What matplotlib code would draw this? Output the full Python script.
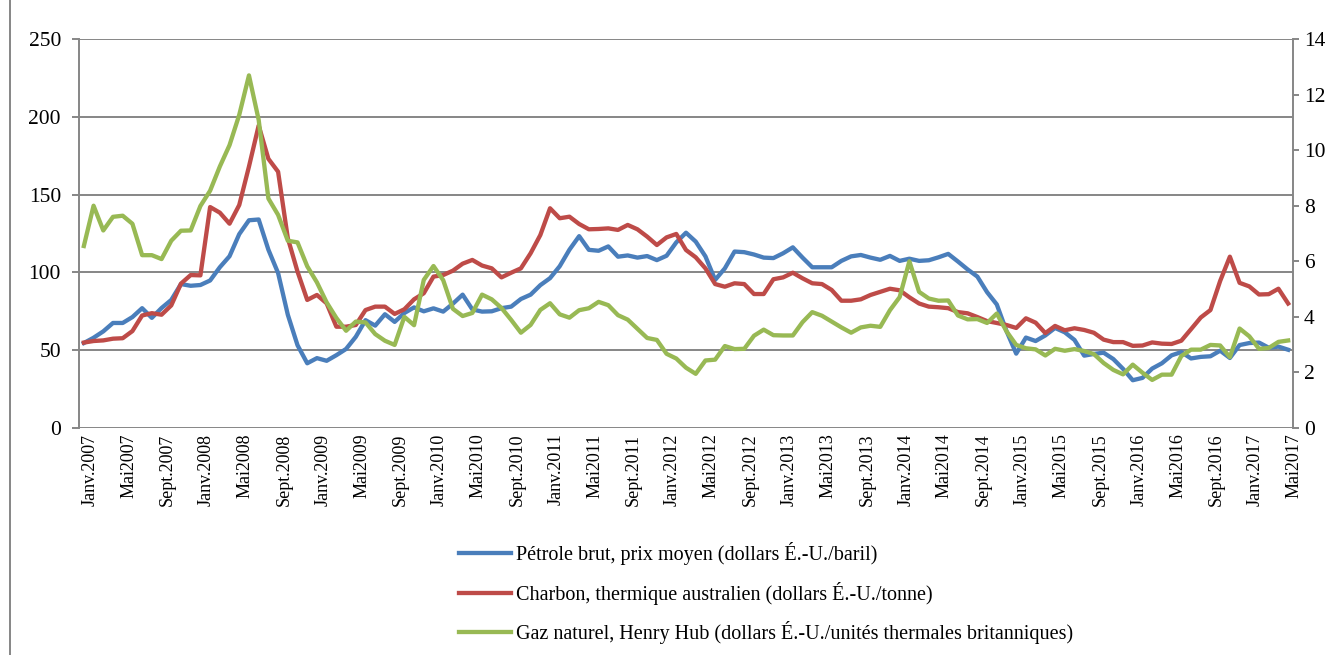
import matplotlib
matplotlib.use('Agg')
from matplotlib import pyplot as plt
from matplotlib.lines import Line2D
from matplotlib.transforms import ScaledTranslation

# Monthly series, Janv.2007 .. Mai2017 (125 months)
petrole = [54.6, 58.0, 62.1, 67.5, 67.5, 71.3, 77.0, 70.8, 77.1, 82.3, 92.5, 91.4,
           91.9, 94.8, 103.3, 110.4, 124.6, 133.5, 134.0, 114.6, 99.6, 72.8, 53.2, 41.6,
           44.9, 43.2, 46.8, 50.8, 58.6, 69.3, 65.8, 73.1, 68.2, 73.9, 77.5, 75.0,
           76.9, 74.8, 79.9, 85.7, 76.2, 74.8, 75.0, 77.0, 78.0, 82.9, 85.7, 91.8,
           96.3, 104.0, 114.6, 123.3, 114.5, 113.9, 116.7, 110.1, 110.9, 109.5, 110.5, 107.9,
           110.7, 119.3, 125.5, 119.8, 110.3, 95.2, 102.6, 113.4, 113.0, 111.5, 109.5, 109.2,
           112.3, 116.1, 109.5, 103.3, 103.3, 103.3, 107.4, 110.3, 111.2, 109.5, 108.1, 110.6,
           107.4, 108.8, 107.4, 107.8, 109.7, 111.9, 107.0, 101.9, 97.3, 87.3, 79.4, 62.3,
           47.8, 58.1, 55.9, 59.5, 64.3, 61.5, 56.6, 46.5, 47.6, 48.4, 44.3, 38.0,
           30.7, 32.2, 38.2, 41.6, 46.7, 48.8, 44.7, 45.7, 46.1, 49.7, 45.0, 53.3,
           54.6, 54.9, 51.6, 52.3, 50.3]

charbon = [54.9, 55.9, 56.3, 57.4, 57.7, 62.3, 72.3, 73.8, 72.8, 78.8, 92.8, 98.3,
           98.1, 142.0, 138.4, 131.3, 143.3, 168.0, 194.4, 173.0, 164.7, 122.0, 100.5, 82.3,
           85.5, 80.1, 65.1, 65.1, 66.2, 75.8, 78.0, 78.0, 73.3, 76.3, 82.7, 86.6,
           97.3, 98.3, 101.1, 105.6, 108.0, 104.4, 102.6, 96.8, 99.8, 102.6, 112.3, 124.0,
           141.2, 134.8, 135.8, 131.1, 127.7, 127.9, 128.3, 127.3, 130.5, 127.7, 123.0, 117.6,
           122.5, 124.7, 114.4, 109.7, 102.6, 92.5, 90.8, 93.0, 92.5, 86.1, 86.1, 95.6,
           96.8, 99.8, 96.2, 93.0, 92.5, 88.7, 81.8, 81.8, 82.7, 85.5, 87.5, 89.5,
           88.5, 84.0, 80.0, 78.0, 77.6, 77.0, 74.5, 73.7, 71.3, 68.7, 67.5, 66.2,
           64.3, 70.5, 67.7, 61.0, 65.6, 62.8, 64.1, 63.0, 61.2, 56.8, 55.2, 55.2,
           52.8, 53.0, 55.0, 54.2, 54.0, 56.1, 63.5, 71.0, 75.8, 94.5, 110.1, 93.3,
           91.0, 85.8, 86.0, 89.5, 80.0]

gaz = [6.55, 8.00, 7.11, 7.60, 7.64, 7.35, 6.22, 6.22, 6.08, 6.74, 7.10, 7.11,
       7.99, 8.54, 9.41, 10.18, 11.27, 12.69, 11.09, 8.26, 7.67, 6.74, 6.68, 5.82,
       5.24, 4.52, 3.96, 3.50, 3.83, 3.80, 3.38, 3.14, 2.99, 4.00, 3.70, 5.33,
       5.83, 5.32, 4.29, 4.03, 4.14, 4.80, 4.63, 4.32, 3.89, 3.43, 3.71, 4.25,
       4.49, 4.09, 3.97, 4.24, 4.31, 4.54, 4.42, 4.06, 3.90, 3.57, 3.24, 3.17,
       2.67, 2.50, 2.17, 1.95, 2.43, 2.46, 2.95, 2.84, 2.85, 3.32, 3.54, 3.34,
       3.33, 3.33, 3.81, 4.17, 4.04, 3.83, 3.62, 3.43, 3.62, 3.68, 3.64, 4.24,
       4.71, 6.00, 4.90, 4.66, 4.58, 4.59, 4.05, 3.91, 3.92, 3.78, 4.12, 3.48,
       2.99, 2.87, 2.83, 2.61, 2.85, 2.78, 2.84, 2.77, 2.66, 2.34, 2.09, 1.93,
       2.28, 1.99, 1.73, 1.92, 1.92, 2.59, 2.82, 2.82, 2.99, 2.97, 2.55, 3.58,
       3.30, 2.85, 2.88, 3.10, 3.15]

tick_labels = ['Janv.2007', 'Mai2007', 'Sept.2007', 'Janv.2008', 'Mai2008', 'Sept.2008',
               'Janv.2009', 'Mai2009', 'Sept.2009', 'Janv.2010', 'Mai2010', 'Sept.2010',
               'Janv.2011', 'Mai2011', 'Sept.2011', 'Janv.2012', 'Mai2012', 'Sept.2012',
               'Janv.2013', 'Mai2013', 'Sept.2013', 'Janv.2014', 'Mai2014', 'Sept.2014',
               'Janv.2015', 'Mai2015', 'Sept.2015', 'Janv.2016', 'Mai2016', 'Sept.2016',
               'Janv.2017', 'Mai2017']

labels = ['Pétrole brut, prix moyen (dollars É.-U./baril)',
          'Charbon, thermique australien (dollars É.-U./tonne)',
          'Gaz naturel, Henry Hub (dollars É.-U./unités thermales britanniques)']

c_blue = '#4a7ebb'
c_red = '#be4b48'
c_green = '#98b954'
c_axis = '#868686'
serif = 'Liberation Serif'

months = list(range(len(petrole)))

fig = plt.figure(figsize=(13.38, 6.55), dpi=100)
ax1 = fig.add_axes([79 / 1338, 1 - 428 / 655, 1214 / 1338, 389 / 655])
ax2 = ax1.twinx()

lw = 3.1
ax1.plot(months, petrole, color=c_blue, lw=lw, solid_joinstyle='round', zorder=3)
ax1.plot(months, charbon, color=c_red, lw=lw, solid_joinstyle='round', zorder=3)
ax2.plot(months, gaz, color=c_green, lw=lw, solid_joinstyle='round', zorder=3)

ax1.set_xlim(-0.5, len(months) - 0.5)
ax1.set_ylim(0, 250)
ax2.set_ylim(0, 14)
ax1.set_yticks(range(0, 251, 50))
ax2.set_yticks(range(0, 15, 2))
ax1.set_xticks(months[::4])
ax1.set_xticklabels(tick_labels, rotation=90, va='top', ha='center')

ax1.yaxis.grid(True, color=c_axis, lw=1.4)
ax1.set_axisbelow(True)

for ax in (ax1, ax2):
    ax.spines['top'].set_visible(False)
    ax.spines['bottom'].set_visible(False)
    ax.spines['left'].set_color(c_axis)
    ax.spines['right'].set_color(c_axis)
    ax.spines['left'].set_linewidth(1.4)
    ax.spines['right'].set_linewidth(1.4)
ax2.spines['left'].set_visible(False)
ax1.spines['right'].set_visible(False)

ax1.tick_params(axis='y', length=5, width=1.4, color=c_axis, pad=8, labelsize=15.5)
ax2.tick_params(axis='y', length=4, width=1.4, color=c_axis, pad=4, labelsize=15.5)
ax1.tick_params(axis='x', length=0, pad=4, labelsize=13)
for t in ax1.get_yticklabels() + ax2.get_yticklabels() + ax1.get_xticklabels():
    t.set_fontfamily(serif)

shift = ScaledTranslation(6 / 100, 0, fig.dpi_scale_trans)
for t in ax1.get_xticklabels():
    t.set_transform(t.get_transform() + shift)

handles = [Line2D([], [], color=c, lw=lw) for c in (c_blue, c_red, c_green)]
fig.legend(handles, labels, loc='upper left', bbox_to_anchor=(449 / 1338, 1 - 532 / 655),
           frameon=False, borderpad=0, handlelength=2.6, handletextpad=0.25,
           labelspacing=0.82, prop={'family': serif, 'size': 14.5})

# chart frame
fig.add_artist(Line2D([10 / 1338, 10 / 1338], [0, 1], transform=fig.transFigure,
                      color=c_axis, lw=1.4))

fig.savefig('out.png', dpi=100)
